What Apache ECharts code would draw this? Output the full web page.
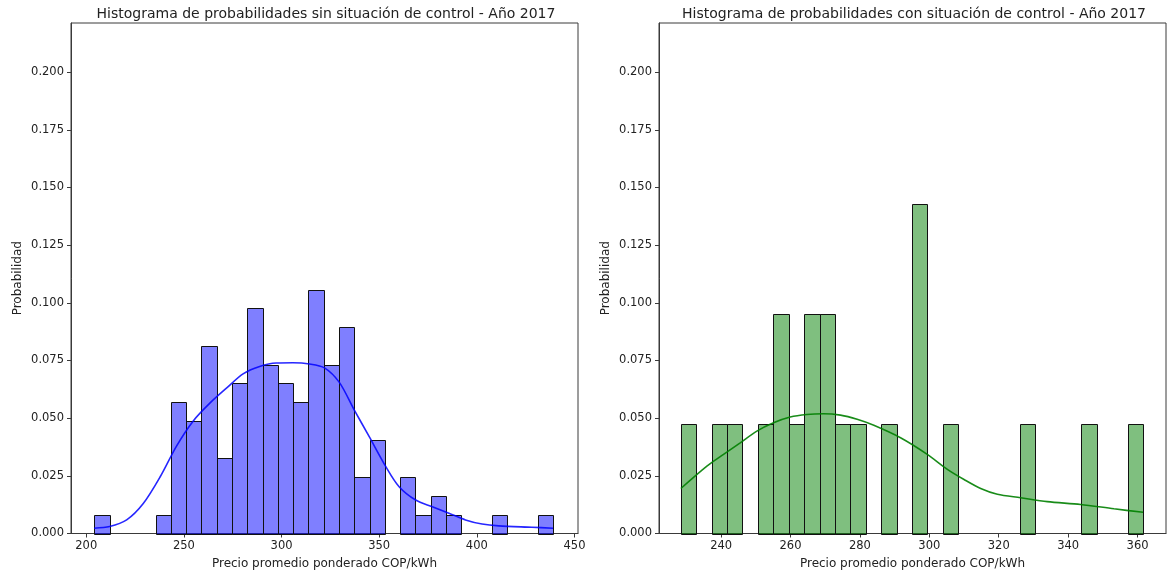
<!DOCTYPE html>
<html>
<head>
<meta charset="utf-8">
<script src="https://cdn.jsdelivr.net/npm/echarts@6/dist/echarts.min.js"></script>
<style>
html,body{margin:0;padding:0;background:#fff;}
#chart{width:1167px;height:577px;}
</style>
</head>
<body>
<div id="chart"></div>
<script>
// ---- Data ----
const leftTitle = 'Histograma de probabilidades sin situación de control - Año 2017';
const rightTitle = 'Histograma de probabilidades con situación de control - Año 2017';
const xName = 'Precio promedio ponderado COP/kWh';
const yName = 'Probabilidad';

// Left histogram: 30 equal bins between these limits
const leftBinRange = [204.2, 439.0];
const leftProb = [0.00813, 0, 0, 0, 0.00813, 0.05691, 0.04878, 0.08130, 0.03252, 0.06504,
                  0.09756, 0.07317, 0.06504, 0.05691, 0.10569, 0.07317, 0.08943, 0.02439, 0.04065, 0,
                  0.02439, 0.00813, 0.01626, 0.00813, 0, 0, 0.00813, 0, 0, 0.00813];
const leftKde = [[204, 0.0023], [212, 0.0030], [220.7, 0.0059], [229.2, 0.0130], [237.8, 0.0245],
                 [246.3, 0.0380], [254.8, 0.0488], [263.3, 0.0565], [271.8, 0.0630], [280.3, 0.0692],
                 [288.8, 0.0724], [297.3, 0.0739], [305.8, 0.0740], [314.3, 0.0735], [322.0, 0.0718],
                 [329.6, 0.0655], [337.2, 0.0536], [344.9, 0.0420], [353.4, 0.0290], [360.2, 0.0203],
                 [368.7, 0.0145], [377.2, 0.0116], [385.7, 0.0088], [394.2, 0.0059], [402.7, 0.0041],
                 [411.2, 0.0033], [428.2, 0.0027], [439.0, 0.0023]];
const leftXTicks = [200, 250, 300, 350, 400, 450];
const leftXRange = [192.2, 451.8];

// Right histogram: 30 equal bins between these limits
const rightBinRange = [228.4, 361.6];
const rightProb = [0.04762, 0, 0.04762, 0.04762, 0, 0.04762, 0.09524, 0.04762, 0.09524, 0.09524,
                   0.04762, 0.04762, 0, 0.04762, 0, 0.14286, 0, 0.04762, 0, 0,
                   0, 0, 0.04762, 0, 0, 0, 0.04762, 0, 0, 0.04762];
const rightKde = [[228.4, 0.0195], [235.9, 0.0292], [240.7, 0.0343], [245.5, 0.0393], [250.3, 0.0444],
                  [255.1, 0.0480], [259.9, 0.0505], [264.7, 0.0516], [269.5, 0.0519], [274.4, 0.0513],
                  [279.2, 0.0495], [284.0, 0.0469], [291.7, 0.0415], [299.4, 0.0343], [305.2, 0.0278],
                  [310.0, 0.0234], [314.8, 0.0195], [319.6, 0.0170], [326.3, 0.0155], [334.0, 0.0138],
                  [343.6, 0.0126], [353.2, 0.0107], [361.6, 0.0092]];
const rightXTicks = [240, 260, 280, 300, 320, 340, 360];
const rightXRange = [222.1, 368.2];

const yTicks = [0, 0.025, 0.05, 0.075, 0.1, 0.125, 0.15, 0.175, 0.2];
const yMax = 0.2213;

// ---- Build ----
function binData(range, probs) {
  const w = (range[1] - range[0]) / probs.length;
  const out = [];
  probs.forEach((p, i) => {
    if (p > 0) out.push([range[0] + i * w, range[0] + (i + 1) * w, p]);
  });
  return out;
}

function renderBar(params, api) {
  const p0 = api.coord([api.value(0), 0]);
  const p1 = api.coord([api.value(1), api.value(2)]);
  const x0 = Math.round(p0[0]) + 0.5, x1 = Math.round(p1[0]) + 0.5;
  const y0 = Math.round(p0[1]) + 0.5, y1 = Math.round(p1[1]) + 0.5;
  return {
    type: 'rect',
    shape: { x: x0, y: y1, width: x1 - x0, height: y0 - y1 },
    style: api.style({ stroke: '#111', lineWidth: 1 })
  };
}

const font = 'DejaVu Sans';
const axisColor = '#3a3a3a';
const textColor = '#222';

function xAxisCfg(idx, range, ticks) {
  return {
    type: 'value', gridIndex: idx, min: range[0], max: range[1],
    name: xName, nameLocation: 'middle', nameGap: 23,
    nameTextStyle: { fontFamily: font, fontSize: 12, color: textColor },
    axisLine: { show: true, onZero: false, lineStyle: { color: axisColor, width: 1 } },
    axisTick: { show: true, length: 4, customValues: ticks, lineStyle: { color: axisColor } },
    axisLabel: { customValues: ticks, margin: 7, fontFamily: font, fontSize: 11.5, color: textColor,
                 formatter: v => String(Math.round(v)) },
    splitLine: { show: false }
  };
}
function yAxisCfg(idx) {
  return {
    type: 'value', gridIndex: idx, min: 0, max: yMax,
    name: yName, nameLocation: 'middle', nameGap: 47,
    nameTextStyle: { fontFamily: font, fontSize: 12, color: textColor },
    axisLine: { show: true, lineStyle: { color: axisColor, width: 1 } },
    axisTick: { show: true, length: 4, customValues: yTicks, lineStyle: { color: axisColor } },
    axisLabel: { customValues: yTicks, margin: 7, fontFamily: font, fontSize: 11.5, color: textColor,
                 formatter: v => v.toFixed(3) },
    splitLine: { show: false }
  };
}

const chart = echarts.init(document.getElementById('chart'), null, { renderer: 'canvas' });
chart.setOption({
  animation: false,
  backgroundColor: '#ffffff',
  title: [
    { text: leftTitle, left: 321, textAlign: 'center', top: 2,
      textStyle: { fontFamily: font, fontSize: 14, fontWeight: 'normal', color: textColor } },
    { text: rightTitle, left: 909, textAlign: 'center', top: 2,
      textStyle: { fontFamily: font, fontSize: 14, fontWeight: 'normal', color: textColor } }
  ],
  grid: [
    { left: 71, right: 589, top: 23, bottom: 43.5, show: true, borderColor: axisColor, borderWidth: 1, backgroundColor: 'transparent' },
    { left: 659, right: 1, top: 23, bottom: 43.5, show: true, borderColor: axisColor, borderWidth: 1, backgroundColor: 'transparent' }
  ],
  xAxis: [xAxisCfg(0, leftXRange, leftXTicks), xAxisCfg(1, rightXRange, rightXTicks)],
  yAxis: [yAxisCfg(0), yAxisCfg(1)],
  series: [
    { type: 'custom', xAxisIndex: 0, yAxisIndex: 0, renderItem: renderBar,
      itemStyle: { color: 'rgba(0,0,255,0.5)' }, encode: { x: [0, 1], y: 2 },
      data: binData(leftBinRange, leftProb), z: 2 },
    { type: 'line', xAxisIndex: 0, yAxisIndex: 0, data: leftKde, smooth: 0.3, showSymbol: false,
      lineStyle: { color: '#0000ff', width: 1.6, opacity: 0.85 }, z: 3 },
    { type: 'custom', xAxisIndex: 1, yAxisIndex: 1, renderItem: renderBar,
      itemStyle: { color: 'rgba(0,128,0,0.5)' }, encode: { x: [0, 1], y: 2 },
      data: binData(rightBinRange, rightProb), z: 2 },
    { type: 'line', xAxisIndex: 1, yAxisIndex: 1, data: rightKde, smooth: 0.3, showSymbol: false,
      lineStyle: { color: '#008000', width: 1.6, opacity: 0.9 }, z: 3 }
  ]
});
</script>
</body>
</html>
